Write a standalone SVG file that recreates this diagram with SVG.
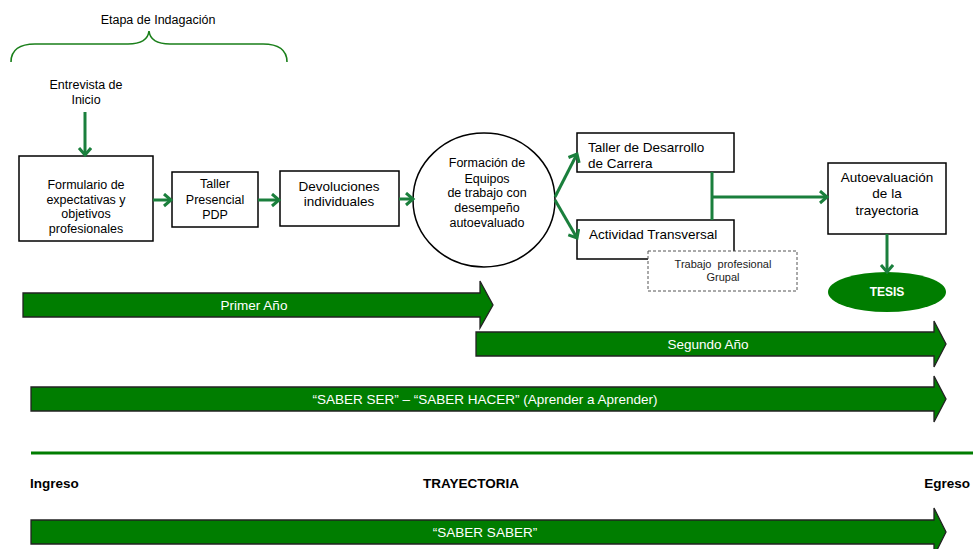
<svg xmlns="http://www.w3.org/2000/svg" width="973" height="549" viewBox="0 0 973 549">
<style>
text{font-family:"Liberation Sans",Arial,sans-serif;fill:#000}
.t{font-size:12.5px;text-anchor:middle}
.l{font-size:13.5px}
.lc{font-size:13.5px;text-anchor:middle}
.s{font-size:11px;text-anchor:middle;fill:#222}
.w{font-size:13.5px;text-anchor:middle;fill:#fff}
.b{font-size:13.5px;font-weight:bold}
.box{fill:#fff;stroke:#000;stroke-width:1.5}
.bar{fill:#007d00;stroke:#222;stroke-width:1.3;stroke-linejoin:miter}
.c{fill:none;stroke:#1a7f3c;stroke-width:3}
</style>
<defs>
<marker id="ah" markerUnits="userSpaceOnUse" markerWidth="14" markerHeight="16" refX="9" refY="7" orient="auto">
<path d="M2,1 L9,7 L2,13" fill="none" stroke="#1a7f3c" stroke-width="3"/>
</marker>
</defs>

<g id="brace">
<path d="M11,62 C11,50 20,44 35,44 L128,44 C140,44 148,40 149,31 C150,40 158,44 170,44 L263,44 C278,44 287,50 287,62" fill="none" stroke="#1a7f1a" stroke-width="1.6"/>
<text class="t" x="158" y="24">Etapa de Indagación</text>
</g>

<g id="entrevista">
<text class="t" x="86" y="89">Entrevista de</text>
<text class="t" x="86" y="104">Inicio</text>
</g>

<g id="formulario">
<rect class="box" x="19" y="156" width="134" height="85"/>
<text class="t" x="86" y="189">Formulario de</text>
<text class="t" x="86" y="204">expectativas y</text>
<text class="t" x="86" y="218">objetivos</text>
<text class="t" x="86" y="233">profesionales</text>
</g>

<g id="taller-presencial">
<rect class="box" x="172" y="172" width="86" height="55"/>
<text class="t" x="215" y="188">Taller</text>
<text class="t" x="215" y="204">Presencial</text>
<text class="t" x="215" y="219">PDP</text>
</g>

<g id="devoluciones">
<rect class="box" x="280" y="171" width="119" height="55"/>
<text class="lc" x="339" y="191">Devoluciones</text>
<text class="lc" x="339" y="206">individuales</text>
</g>

<g id="formacion">
<ellipse cx="484" cy="200" rx="71" ry="67" fill="#fff" stroke="#000" stroke-width="1.5"/>
<text class="t" x="487" y="167">Formación de</text>
<text class="t" x="487" y="183">Equipos</text>
<text class="t" x="487" y="197">de trabajo con</text>
<text class="t" x="487" y="212">desempeño</text>
<text class="t" x="487" y="227">autoevaluado</text>
</g>

<g id="taller-desarrollo">
<rect class="box" x="577" y="133" width="157" height="39"/>
<text class="l" x="588" y="152">Taller de Desarrollo</text>
<text class="l" x="588" y="168">de Carrera</text>
</g>

<g id="actividad">
<rect class="box" x="577" y="220" width="157" height="39"/>
<text class="l" x="589" y="239">Actividad Transversal</text>
</g>

<g id="trabajo-grupal">
<rect x="648" y="251" width="149" height="40" fill="#fff" stroke="#555" stroke-width="1" stroke-dasharray="3,2"/>
<text class="s" x="723" y="268" xml:space="preserve">Trabajo  profesional</text>
<text class="s" x="723" y="281">Grupal</text>
</g>

<g id="autoevaluacion">
<rect class="box" x="828" y="163" width="118" height="71"/>
<text class="lc" x="887" y="182">Autoevaluación</text>
<text class="lc" x="887" y="198">de la</text>
<text class="lc" x="887" y="215">trayectoria</text>
</g>

<g id="tesis">
<ellipse cx="887" cy="292" rx="59" ry="20" fill="#007d00"/>
<text x="887" y="296" style="font-size:12px;font-weight:bold;fill:#fff;text-anchor:middle">TESIS</text>
</g>

<g id="connectors">
<line class="c" x1="85" y1="112" x2="85" y2="155" marker-end="url(#ah)"/>
<line class="c" x1="153" y1="200" x2="171" y2="200" marker-end="url(#ah)"/>
<line class="c" x1="258" y1="200" x2="279" y2="200" marker-end="url(#ah)"/>
<line class="c" x1="399" y1="199" x2="413" y2="199" marker-end="url(#ah)"/>
<line class="c" x1="555" y1="197" x2="577" y2="154" marker-end="url(#ah)"/>
<line class="c" x1="555" y1="200" x2="577" y2="238" marker-end="url(#ah)"/>
<line class="c" x1="712" y1="172" x2="712" y2="220"/>
<line class="c" x1="712" y1="197" x2="827" y2="197" marker-end="url(#ah)"/>
<line class="c" x1="887" y1="234" x2="887" y2="272" marker-end="url(#ah)"/>
</g>

<g id="primer-ano">
<polygon class="bar" points="23,293 480,293 480,281 493,305 480,328 480,317 23,317"/>
<text class="w" x="254" y="310">Primer Año</text>
</g>

<g id="segundo-ano">
<polygon class="bar" points="476,332 934,332 934,321 946,344 934,367 934,356 476,356"/>
<text class="w" x="708" y="349">Segundo Año</text>
</g>

<g id="saber-ser">
<polygon class="bar" points="31,387 934,387 934,376 946,399 934,422 934,411 31,411"/>
<text class="w" x="485" y="404">“SABER SER” – “SABER HACER” (Aprender a Aprender)</text>
</g>

<g id="trayectoria">
<line x1="31" y1="453" x2="973" y2="453" stroke="#007d00" stroke-width="3"/>
<text class="b" x="30" y="488">Ingreso</text>
<text class="b" x="471" y="488" text-anchor="middle">TRAYECTORIA</text>
<text class="b" x="970" y="488" text-anchor="end">Egreso</text>
</g>

<g id="saber-saber">
<polygon class="bar" points="31,520 934,520 934,508 946,532 934,556 934,544 31,544"/>
<text class="w" x="485" y="537">“SABER SABER”</text>
</g>
</svg>
